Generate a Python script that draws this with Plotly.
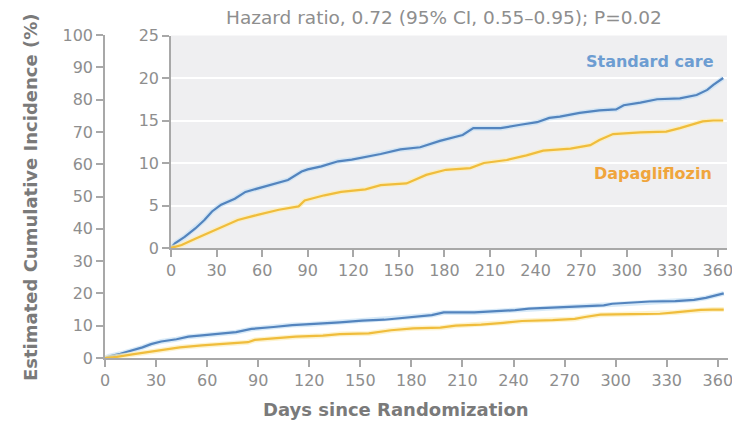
import plotly.graph_objects as go

# ---- data ----
std_days = [0, 2.6, 9, 16, 22, 27, 33, 42, 49, 57, 68, 77, 86, 90, 99, 110, 119, 128, 138, 151, 164, 177, 192, 199, 217, 230, 241, 249, 256, 269, 282, 293, 298, 309, 320, 335, 346, 353, 357, 363.5]
std_vals = [0, 0.55, 1.3, 2.3, 3.3, 4.3, 5.1, 5.8, 6.6, 7.0, 7.6, 8.0, 9.0, 9.25, 9.6, 10.2, 10.4, 10.7, 11.06, 11.6, 11.85, 12.6, 13.3, 14.1, 14.1, 14.5, 14.8, 15.3, 15.45, 15.9, 16.2, 16.3, 16.8, 17.1, 17.5, 17.6, 18.0, 18.6, 19.2, 20.0]
dapa_days = [0, 7, 16, 29, 44, 57, 71, 84, 88, 101, 112, 128, 138, 155, 168, 181, 197, 206, 221, 234, 245, 263, 276, 282, 291, 309, 326, 335, 342, 350, 357, 363.5]
dapa_vals = [0, 0.35, 1.1, 2.1, 3.3, 3.9, 4.5, 4.9, 5.6, 6.2, 6.6, 6.9, 7.4, 7.6, 8.6, 9.2, 9.4, 10.0, 10.35, 10.9, 11.45, 11.7, 12.1, 12.7, 13.4, 13.6, 13.7, 14.1, 14.5, 14.9, 15.0, 15.0]

x_ticks = [0, 30, 60, 90, 120, 150, 180, 210, 240, 270, 300, 330, 360]
main_y_ticks = [0, 10, 20, 30, 40, 50, 60, 70, 80, 90, 100]
inset_y_ticks = [0, 5, 10, 15, 20, 25]

title_text = "Hazard ratio, 0.72 (95% CI, 0.55\u20130.95); P=0.02"
series_names = ["Standard care", "Dapagliflozin"]
x_title = "Days since Randomization"
y_title = "Estimated Cumulative Incidence (%)"

BLUE = "#5384be"
BLUE_HALO = "rgba(200,225,245,0.7)"
YEL = "#f0bd3c"
YEL_HALO = "rgba(252,238,185,0.7)"
AX = "#a8a8a8"
TXT = "#8e8e8e"
FONT = "DejaVu Sans"

# page body has an 8px margin; shift figure coordinates accordingly
OFF = 8
W, H = 732, 417
def px(v):
    return (v - OFF) / W
def py(v):
    return 1 - (v - OFF) / H

fig = go.Figure()

for (xa, ya) in [("x", "y"), ("x2", "y2")]:
    for d, v, c, hc, nm in [(std_days, std_vals, BLUE, BLUE_HALO, series_names[0]),
                            (dapa_days, dapa_vals, YEL, YEL_HALO, series_names[1])]:
        fig.add_trace(go.Scatter(x=d, y=v, mode="lines", xaxis=xa, yaxis=ya,
                                 line=dict(color=hc, width=5), hoverinfo="skip", showlegend=False))
        fig.add_trace(go.Scatter(x=d, y=v, mode="lines", xaxis=xa, yaxis=ya, name=nm,
                                 line=dict(color=c, width=2.2), showlegend=False))

axis_common = dict(showline=True, linecolor=AX, linewidth=1.5, ticks="outside",
                   tickcolor=AX, ticklen=7, tickwidth=1.5,
                   tickfont=dict(family=FONT, size=16, color=TXT),
                   showgrid=False, zeroline=False, fixedrange=True, automargin=False,
                   ticklabeloverflow="allow")

fig.update_layout(
    width=W, height=H,
    margin=dict(l=0, r=0, t=0, b=0),
    paper_bgcolor="white", plot_bgcolor="rgba(0,0,0,0)",
    xaxis=dict(axis_common, domain=[px(105), px(728)], range=[0, 366],
               tickvals=x_ticks, anchor="y"),
    yaxis=dict(axis_common, domain=[py(358), py(35)], range=[0, 100],
               tickvals=main_y_ticks, anchor="x"),
    xaxis2=dict(axis_common, domain=[px(171), px(727)], range=[0, 366],
                tickvals=x_ticks, anchor="y2"),
    yaxis2=dict(axis_common, domain=[py(248), py(35.5)], range=[0, 25],
                tickvals=inset_y_ticks, anchor="x2",
                showgrid=True, gridcolor="white", gridwidth=1.5),
)

fig.add_shape(type="rect", xref="x2 domain", yref="y2 domain", x0=0, x1=1, y0=0, y1=1,
              fillcolor="#efeff1", line=dict(width=0), layer="below")

ann = dict(xref="paper", yref="paper", showarrow=False, xanchor="center", yanchor="middle")
fig.add_annotation(ann, text=title_text, x=px(444), y=py(18),
                   font=dict(family=FONT, size=18.5, color=TXT))
fig.add_annotation(ann, text="<b>" + x_title + "</b>", x=px(396), y=py(409),
                   font=dict(family=FONT, size=18, color="#7a7a7a"))
fig.add_annotation(ann, text="<b>" + y_title + "</b>", x=px(30), y=py(198), textangle=-90,
                   font=dict(family=FONT, size=18, color="#7a7a7a"))
fig.add_annotation(ann, text="<b>" + series_names[0] + "</b>", x=px(716), y=py(62), xanchor="right",
                   font=dict(family=FONT, size=16, color="#6d9dd2"))
fig.add_annotation(ann, text="<b>" + series_names[1] + "</b>", x=px(714), y=py(173), xanchor="right",
                   font=dict(family=FONT, size=16, color="#f0a53c"))

fig.write_html("out.html")
